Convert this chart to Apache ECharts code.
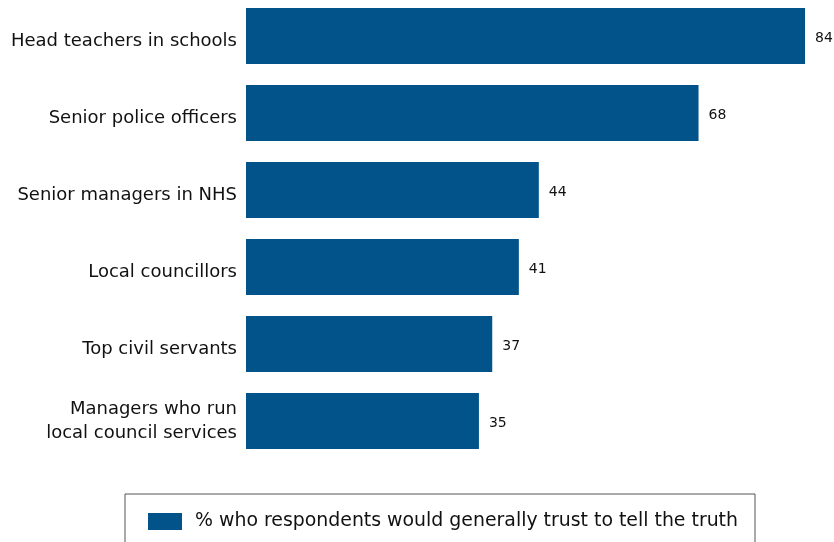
<!DOCTYPE html>
<html>
<head>
<meta charset="utf-8">
<style>
  html, body { margin: 0; padding: 0; background: #ffffff; }
  #chart { width: 834px; height: 542px; }
</style>
<script src="https://cdn.jsdelivr.net/npm/echarts@6/dist/echarts.min.js"></script>
</head>
<body>
<div id="chart"></div>
<script>
// Survey groups, top to bottom
const categories = [
  'Head teachers in schools',
  'Senior police officers',
  'Senior managers in NHS',
  'Local councillors',
  'Top civil servants',
  'Managers who run\nlocal council services'
];
// Share of respondents (%) who would trust each group to tell the truth
const trustValues = [84, 68, 44, 41, 37, 35];
const seriesName = '% who respondents would generally trust to tell the truth';

const FONT = '"DejaVu Sans", "Noto Sans", sans-serif';
const BLUE = '#02538A';
const INK = '#111111';

const chart = echarts.init(document.getElementById('chart'), null, { renderer: 'canvas' });

chart.setOption({
  animation: false,
  backgroundColor: '#ffffff',
  grid: {
    left: 246, top: -2.5, width: 665.5, height: 462,
    containLabel: false,
    outerBoundsMode: 'none'
  },
  xAxis: {
    type: 'value', min: 0, max: 100,
    show: false
  },
  yAxis: {
    type: 'category',
    inverse: true,
    data: categories,
    axisLine: { show: false },
    axisTick: { show: false },
    splitLine: { show: false },
    axisLabel: {
      margin: 9,
      fontFamily: FONT,
      fontSize: 18,
      color: INK,
      lineHeight: 24,
      align: 'right',
      // single-line names sit a little below the bar centre
      formatter: v => v.indexOf('\n') < 0 ? '{s|' + v + '}' : v,
      rich: {
        s: { fontFamily: FONT, fontSize: 18, color: INK, padding: [11, 0, 0, 0] }
      }
    }
  },
  legend: {
    left: 125,
    top: 494,
    padding: [18, 17, 40, 23],
    borderColor: '#555555',
    borderWidth: 1,
    itemWidth: 34,
    itemHeight: 17,
    icon: 'rect',
    textStyle: { fontFamily: FONT, fontSize: 18.9, color: INK, padding: [0, 0, 0, 8] },
    data: [seriesName]
  },
  series: [{
    name: seriesName,
    type: 'bar',
    data: trustValues,
    barWidth: 56,
    itemStyle: { color: BLUE },
    label: {
      show: true,
      position: 'right',
      distance: 10,
      offset: [0, 2],
      fontFamily: FONT,
      fontSize: 14,
      color: INK
    }
  }]
});
</script>
</body>
</html>
